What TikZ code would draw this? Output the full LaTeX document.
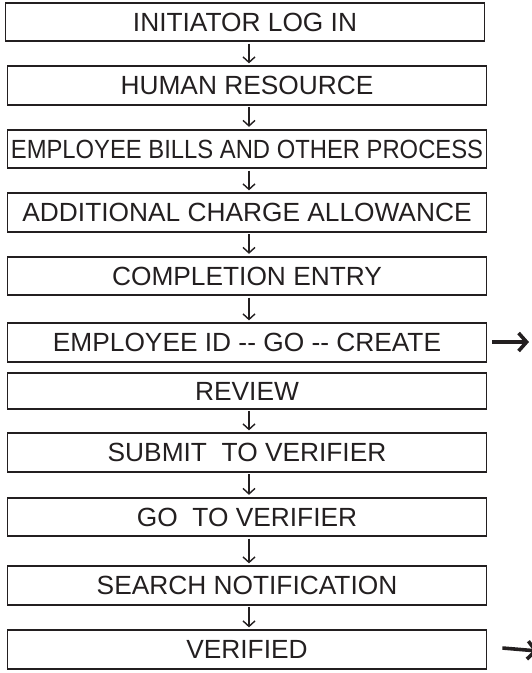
\documentclass[tikz,border=0pt]{standalone}
\usepackage{fontspec}
\setmainfont{Liberation Sans}
\usetikzlibrary{arrows.meta}
\definecolor{ink}{RGB}{35,31,32}
\tikzset{
  stepbox/.style={draw=ink, text=ink, line width=1.8pt, minimum width=479pt, minimum height=38.5pt, inner sep=0pt,
    font=\fontsize{26.3}{30}\selectfont},
  down/.style={draw=ink, line width=1.4pt, -{Straight Barb[length=5.5pt,width=12pt]}, shorten <=1.5pt, shorten >=2pt},
  rarrow/.style={draw=ink, line width=3.6pt, -{Straight Barb[length=8pt,width=18pt]}}
}
\begin{document}
\begin{tikzpicture}[x=1pt,y=-1pt]
\useasboundingbox (0,0) rectangle (531,673);
\node[stepbox] (n1) at (245,22) {INITIATOR LOG IN};
\node[stepbox] (n2) at (247,85.5) {HUMAN RESOURCE};
\node[stepbox] (n3) at (247,149) {\scalebox{0.905}[1]{EMPLOYEE BILLS AND OTHER PROCESS}};
\node[stepbox] (n4) at (247,212.5) {ADDITIONAL CHARGE ALLOWANCE};
\node[stepbox] (n5) at (247,276) {COMPLETION ENTRY};
\node[stepbox] (n6) at (247,342.5) {EMPLOYEE ID -\kern0pt- GO -\kern0pt- CREATE};
\node[stepbox, minimum height=36pt] (n7) at (247,391) {REVIEW};
\node[stepbox] (n8) at (247,452.5) {SUBMIT\ \ TO VERIFIER};
\node[stepbox] (n9) at (247,517) {GO\ \ TO VERIFIER};
\node[stepbox] (n10) at (247,585.5) {SEARCH NOTIFICATION};
\node[stepbox] (n11) at (247,649.5) {VERIFIED};
\coordinate (r1) at (529,342);
\coordinate (r2) at (538,651);
\draw[down] ([xshift=4pt]n1.south) -- ([xshift=2pt]n2.north);
\draw[down] ([xshift=2pt]n2.south) -- ([xshift=2pt]n3.north);
\draw[down] ([xshift=2pt]n3.south) -- ([xshift=2pt]n4.north);
\draw[down] ([xshift=2pt]n4.south) -- ([xshift=2pt]n5.north);
\draw[down] ([xshift=2pt]n5.south) -- ([xshift=2pt]n6.north);
\draw[down] ([xshift=2pt]n7.south) -- ([xshift=2pt]n8.north);
\draw[down] ([xshift=2pt]n8.south) -- ([xshift=2pt]n9.north);
\draw[down] ([xshift=2pt]n9.south) -- ([xshift=2pt]n10.north);
\draw[down] ([xshift=2pt]n10.south) -- ([xshift=2pt]n11.north);
\draw[rarrow] ([xshift=5pt,yshift=0.5pt]n6.east) -- (r1);
\draw[rarrow] ([xshift=15pt,yshift=1.5pt]n11.east) -- (r2);
\end{tikzpicture}
\end{document}
